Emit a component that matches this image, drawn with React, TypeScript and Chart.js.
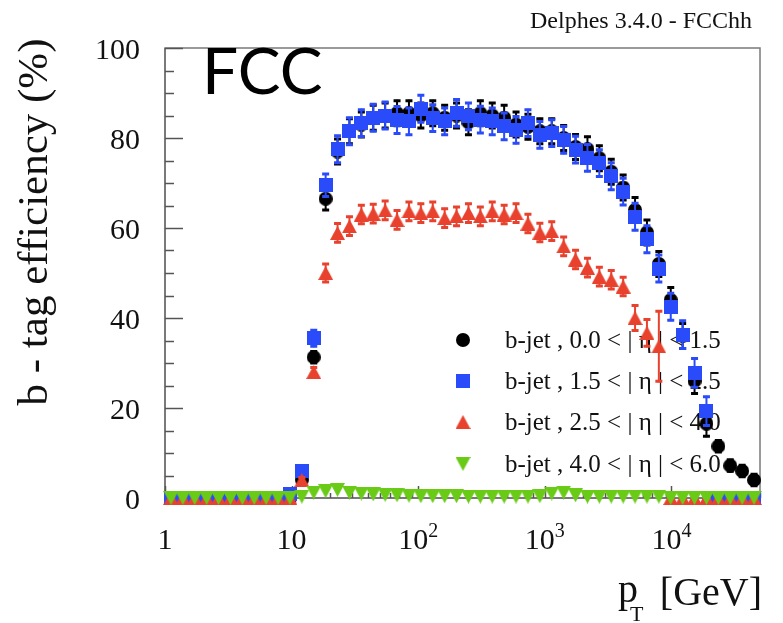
import React, { useEffect, useRef } from "react";
import { Chart, registerables } from "chart.js";

Chart.register(...registerables);

// Log-spaced pT binning of the efficiency histograms
const NBINS = 50;
const PT_MIN = 1;
const PT_MAX = 50000;

// b-tag efficiency (%) per pT bin, one array per |eta| region
const effEta00to15 = [
  0, 0, 0, 0, 0, 0, 0, 0, 0, 0,
  0, 4.1, 31.3, 66.5, 77.0, 81.5, 83.0, 84.5, 85.0, 85.5,
  85.5, 85.0, 85.5, 84.5, 85.0, 83.5, 85.5, 85.0, 84.5, 83.0,
  82.5, 81.5, 81.5, 80.0, 78.0, 77.5, 75.5, 72.5, 69.0, 64.0,
  59.0, 52.0, 44.0, 36.0, 26.0, 16.5, 11.5, 7.2, 6.0, 4.0,
];
const effEta15to25 = [
  0, 0, 0, 0, 0, 0, 0, 0, 0, 0,
  1.0, 6.0, 35.5, 69.5, 77.5, 81.5, 83.3, 84.5, 85.0, 84.0,
  83.7, 86.5, 84.4, 83.7, 85.6, 84.8, 84.1, 83.7, 82.6, 81.8,
  83.3, 80.7, 81.1, 79.6, 77.4, 75.6, 74.4, 71.5, 68.1, 62.5,
  57.5, 51.0, 42.5, 36.3, 27.8, 19.3, 0, 0, 0, 0,
];
const effEta25to40 = [
  0, 0, 0, 0, 0, 0, 0, 0, 0, 0,
  0, 4.0, 28.0, 50.0, 58.9, 60.4, 63.0, 63.2, 63.9, 61.8,
  63.7, 63.3, 63.7, 62.2, 62.6, 63.3, 62.6, 63.7, 63.0, 63.3,
  61.0, 59.0, 59.3, 55.9, 53.0, 51.2, 49.2, 48.5, 47.0, 40.0,
  36.7, 33.7, 0, 0, 0, 0, 0, 0, 0, 0,
];
const effEta40to60 = [
  0, 0, 0, 0, 0, 0, 0, 0, 0, 0,
  0, 0.3, 1.2, 1.5, 1.8, 1.2, 1.0, 0.8, 0.7, 0.6,
  0.5, 0.4, 0.4, 0.4, 0.4, 0.3, 0.3, 0.3, 0.3, 0.3,
  0.3, 0.4, 1.0, 1.2, 0.6, 0.3, 0.3, 0.3, 0.3, 0.3,
  0.3, 0.3, 0, 0, 0, 0, 0, 0, 0, 0,
];

// Statistical uncertainties (%) per bin
const errEta00to15 = [
  0, 0, 0, 0, 0, 0, 0, 0, 0, 0,
  0, 1.0, 1.5, 2.7, 3.0, 3.0, 3.0, 3.0, 3.0, 3.0,
  3.0, 3.0, 3.0, 3.0, 3.0, 3.0, 3.0, 3.0, 3.0, 3.0,
  3.0, 3.0, 3.0, 3.0, 3.0, 3.0, 3.0, 3.0, 3.0, 3.0,
  3.0, 3.0, 3.0, 3.0, 3.0, 3.0, 1.5, 1.5, 1.5, 1.5,
];
const errEta15to25 = [
  0, 0, 0, 0, 0, 0, 0, 0, 0, 0,
  0.5, 1.0, 2.0, 2.7, 3.2, 3.2, 3.2, 3.2, 3.2, 3.2,
  3.2, 3.2, 3.2, 3.2, 3.2, 3.2, 3.2, 3.2, 3.2, 3.2,
  3.2, 3.2, 3.2, 3.2, 3.2, 3.2, 3.2, 3.2, 3.2, 3.2,
  3.2, 3.2, 3.2, 3.3, 3.4, 3.4, 0, 0, 0, 0,
];
const errEta25to40 = [
  0, 0, 0, 0, 0, 0, 0, 0, 0, 0,
  0, 0.8, 1.2, 2.2, 2.3, 2.3, 2.3, 2.3, 2.3, 2.3,
  2.3, 2.3, 2.3, 2.3, 2.3, 2.3, 2.3, 2.3, 2.3, 2.3,
  2.3, 2.3, 2.3, 2.3, 2.3, 2.3, 2.3, 2.3, 2.3, 3.0,
  3.2, 8.0, 0, 0, 0, 0, 0, 0, 0, 0,
];

const legendLabels = [
  "b-jet , 0.0 < | \u03b7 | < 1.5",
  "b-jet , 1.5 < | \u03b7 | < 2.5",
  "b-jet , 2.5 < | \u03b7 | < 4.0",
  "b-jet , 4.0 < | \u03b7 | < 6.0",
];

const yTickValues = [0, 20, 40, 60, 80, 100];
const xTickValues = [1, 10, 100, 1000, 10000];
const xTickBase = ["1", "10", "10", "10", "10"];
const xTickExp = ["", "", "2", "3", "4"];

const COLORS = {
  black: "#000000",
  blue: "#2a4bfa",
  red: "#e8422f",
  green: "#6acb17",
  frame: "#7a7a7a",
};

const SERIF = "'Liberation Serif', 'DejaVu Serif', serif";

const logMin = Math.log10(PT_MIN);
const logMax = Math.log10(PT_MAX);
const binCenters = Array.from({ length: NBINS }, (_, i) =>
  Math.pow(10, logMin + ((i + 0.5) * (logMax - logMin)) / NBINS)
);

function toPoints(vals: number[]) {
  return vals.map((v, i) => ({ x: binCenters[i], y: v }));
}

// Marker sprites (ROOT-like full circle, square and triangles)
function makeMarker(kind: string, color: string): HTMLCanvasElement {
  const c = document.createElement("canvas");
  const w = kind === "rect" || kind === "circle" ? 14 : 15;
  const h = 14;
  c.width = w;
  c.height = h;
  const g = c.getContext("2d")!;
  g.fillStyle = color;
  g.beginPath();
  if (kind === "circle") {
    g.arc(7, 7, 7, 0, Math.PI * 2);
  } else if (kind === "rect") {
    g.rect(0, 0, 14, 14);
  } else if (kind === "up") {
    g.moveTo(7.5, 0);
    g.lineTo(15, 14);
    g.lineTo(0, 14);
    g.closePath();
  } else {
    g.moveTo(0, 0);
    g.lineTo(15, 0);
    g.lineTo(7.5, 14);
    g.closePath();
  }
  g.fill();
  return c;
}

const errorBarsPlugin = {
  id: "errorBars",
  beforeDatasetDraw(chart: any, args: any) {
    const ds = chart.data.datasets[args.index];
    const errs: number[] | undefined = ds.errors;
    if (!errs) return;
    const ctx: CanvasRenderingContext2D = chart.ctx;
    const yScale = chart.scales.y;
    ctx.save();
    ctx.strokeStyle = ds.backgroundColor;
    args.meta.data.forEach((pt: any, i: number) => {
      const e = errs[i];
      if (!e) return;
      const v = ds.data[i].y;
      const top = yScale.getPixelForValue(v + e);
      const bot = yScale.getPixelForValue(v - e);
      ctx.lineWidth = 2;
      ctx.beginPath();
      ctx.moveTo(pt.x, top);
      ctx.lineTo(pt.x, bot);
      ctx.stroke();
      ctx.lineWidth = 3;
      ctx.beginPath();
      ctx.moveTo(pt.x - 3.5, top + 1);
      ctx.lineTo(pt.x + 3.5, top + 1);
      ctx.moveTo(pt.x - 3.5, bot - 1);
      ctx.lineTo(pt.x + 3.5, bot - 1);
      ctx.stroke();
    });
    ctx.restore();
  },
};

const framePlugin = {
  id: "frameAxes",
  beforeDatasetsDraw(chart: any, _args: any, opts: any) {
    const ctx: CanvasRenderingContext2D = chart.ctx;
    const { left, right, top, bottom } = chart.chartArea;
    const xs = chart.scales.x;
    const ys = chart.scales.y;
    ctx.save();
    ctx.strokeStyle = COLORS.frame;
    ctx.lineWidth = 1.5;
    ctx.strokeRect(left, top, right - left, bottom - top);
    ctx.lineWidth = 2;
    ctx.beginPath();
    ctx.moveTo(left, top);
    ctx.lineTo(left, bottom);
    ctx.lineTo(right, bottom);
    ctx.stroke();

    // y ticks: major every 20, minor every 5
    ctx.lineWidth = 1.5;
    ctx.strokeStyle = "#555";
    for (let v = 0; v <= 100; v += 5) {
      const py = Math.round(ys.getPixelForValue(v)) + 0.5;
      const len = v % 20 === 0 ? 18 : 9;
      ctx.beginPath();
      ctx.moveTo(left, py);
      ctx.lineTo(left + len, py);
      ctx.stroke();
    }
    // x ticks: decades and 2..9 subdivisions
    for (let d = 0; d <= 4; d++) {
      for (let m = 1; m <= 9; m++) {
        const v = m * Math.pow(10, d);
        if (v > PT_MAX) continue;
        const px = Math.round(xs.getPixelForValue(v)) + 0.5;
        const len = m === 1 ? 12 : 5;
        ctx.beginPath();
        ctx.moveTo(px, bottom);
        ctx.lineTo(px, bottom - len);
        ctx.stroke();
      }
    }

    // legend, drawn beneath the data points
    const markers: HTMLCanvasElement[] = opts.markers || [];
    const rowY = [340, 381, 422, 464];
    ctx.font = `25px ${SERIF}`;
    ctx.textBaseline = "middle";
    ctx.textAlign = "left";
    legendLabels.forEach((label, i) => {
      const m = markers[i];
      if (m) ctx.drawImage(m, 463 - m.width / 2, rowY[i] - m.height / 2);
      ctx.fillStyle = "#111";
      ctx.fillText(label, 505, rowY[i] + 1);
    });
    ctx.restore();
  },
};

const textPlugin = {
  id: "texts",
  afterDraw(chart: any) {
    const ctx: CanvasRenderingContext2D = chart.ctx;
    const xs = chart.scales.x;
    const ys = chart.scales.y;
    ctx.save();
    ctx.fillStyle = "#111";

    // y tick labels
    ctx.font = `30px ${SERIF}`;
    ctx.textAlign = "right";
    ctx.textBaseline = "alphabetic";
    yTickValues.forEach((v) => {
      ctx.fillText(String(v), 140, ys.getPixelForValue(v) + 11);
    });

    // x tick labels with superscript exponents
    xTickValues.forEach((v, i) => {
      const px = xs.getPixelForValue(v);
      ctx.font = `30px ${SERIF}`;
      const wBase = ctx.measureText(xTickBase[i]).width;
      ctx.font = `20px ${SERIF}`;
      const wExp = xTickExp[i] ? ctx.measureText(xTickExp[i]).width : 0;
      const x0 = px - (wBase + wExp) / 2;
      ctx.textAlign = "left";
      ctx.font = `30px ${SERIF}`;
      ctx.fillText(xTickBase[i], x0, 549);
      if (xTickExp[i]) {
        ctx.font = `20px ${SERIF}`;
        ctx.fillText(xTickExp[i], x0 + wBase, 537);
      }
    });

    // axis titles
    ctx.font = `40px ${SERIF}`;
    ctx.textAlign = "left";
    ctx.fillText("p", 618, 602);
    ctx.font = `22px ${SERIF}`;
    ctx.fillText("T", 630, 621);
    ctx.font = `40px ${SERIF}`;
    ctx.textAlign = "right";
    ctx.fillText("[GeV]", 762, 605);

    ctx.save();
    ctx.translate(47, 222);
    ctx.rotate(-Math.PI / 2);
    ctx.textAlign = "center";
    ctx.font = `43px ${SERIF}`;
    ctx.fillText("b - tag efficiency (%)", 0, 0);
    ctx.restore();

    // header and experiment label
    ctx.font = `24px ${SERIF}`;
    ctx.textAlign = "right";
    ctx.fillText("Delphes 3.4.0 - FCChh", 752, 28);

    ctx.font = `64px Lato, 'Noto Sans', sans-serif`;
    ctx.textAlign = "left";
    ctx.fillStyle = "#000";
    ctx.fillText("FCC", 202, 94);
    ctx.restore();
  },
};

export default function App() {
  const canvasRef = useRef<HTMLCanvasElement | null>(null);

  useEffect(() => {
    const canvas = canvasRef.current;
    if (!canvas) return;
    const mBlack = makeMarker("circle", COLORS.black);
    const mBlue = makeMarker("rect", COLORS.blue);
    const mRed = makeMarker("up", COLORS.red);
    const mGreen = makeMarker("down", COLORS.green);
    const base = {
      showLine: false,
      clip: false as any,
      borderWidth: 0,
      pointBorderWidth: 0,
      pointRadius: 7,
      pointHoverRadius: 7,
    };
    const chart = new Chart(canvas, {
      type: "scatter",
      data: {
        datasets: [
          {
            ...base,
            label: legendLabels[0],
            data: toPoints(effEta00to15),
            errors: errEta00to15,
            pointStyle: mBlack,
            backgroundColor: COLORS.black,
            borderColor: COLORS.black,
            order: 4,
          } as any,
          {
            ...base,
            label: legendLabels[1],
            data: toPoints(effEta15to25),
            errors: errEta15to25,
            pointStyle: mBlue,
            backgroundColor: COLORS.blue,
            borderColor: COLORS.blue,
            order: 3,
          } as any,
          {
            ...base,
            label: legendLabels[2],
            data: toPoints(effEta25to40),
            errors: errEta25to40,
            pointStyle: mRed,
            backgroundColor: COLORS.red,
            borderColor: COLORS.red,
            order: 2,
          } as any,
          {
            ...base,
            label: legendLabels[3],
            data: toPoints(effEta40to60),
            pointStyle: mGreen,
            backgroundColor: COLORS.green,
            borderColor: COLORS.green,
            order: 1,
          } as any,
        ],
      },
      options: {
        responsive: false,
        animation: false,
        events: [],
        layout: { padding: { left: 165, right: 23, top: 48, bottom: 125 } },
        scales: {
          x: { type: "logarithmic", min: PT_MIN, max: PT_MAX, display: false },
          y: { type: "linear", min: 0, max: 100, display: false },
        },
        plugins: {
          legend: { display: false },
          tooltip: { enabled: false },
          frameAxes: { markers: [mBlack, mBlue, mRed, mGreen] },
        } as any,
      },
      plugins: [framePlugin, errorBarsPlugin, textPlugin],
    });
    let alive = true;
    document.fonts?.ready.then(() => {
      if (alive) chart.draw();
    });
    return () => {
      alive = false;
      chart.destroy();
    };
  }, []);

  return (
    <div style={{ position: "absolute", left: 0, top: 0, width: 783, height: 623, background: "#fff" }}>
      <canvas ref={canvasRef} width={783} height={623} style={{ display: "block" }} />
    </div>
  );
}
